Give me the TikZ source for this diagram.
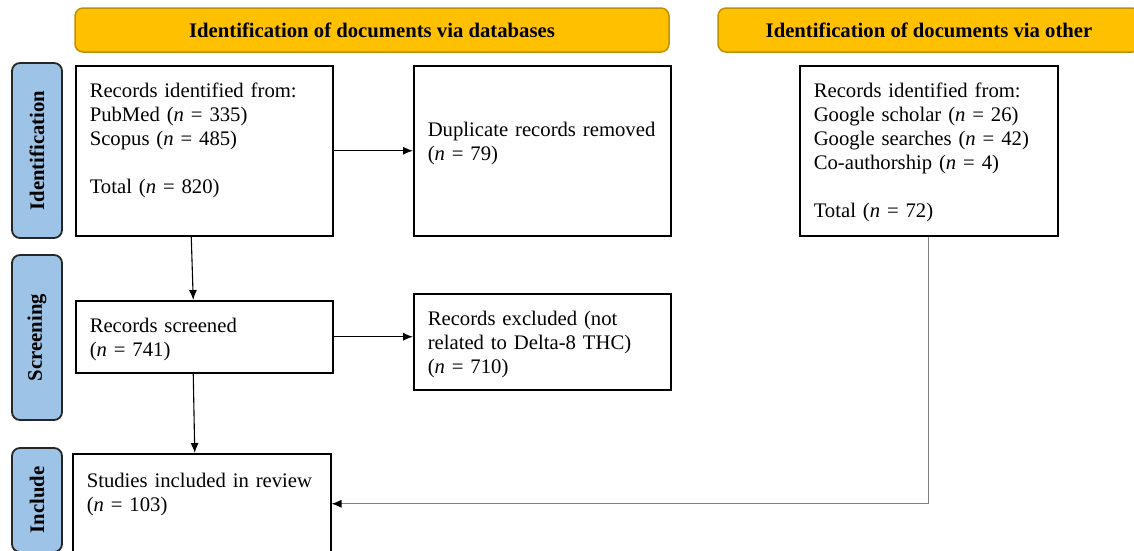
\documentclass[tikz,border=0pt]{standalone}
\usepackage{fontspec}
\setmainfont{Liberation Serif}
\usetikzlibrary{arrows.meta, positioning}

\definecolor{headfill}{HTML}{FFC000}
\definecolor{headline}{HTML}{BF9000}
\definecolor{stagefill}{HTML}{9DC3E6}

\tikzset{
  header/.style={draw=headline, fill=headfill, line width=1.5pt, rounded corners=8pt, minimum height=44pt, font=\bfseries},
  stage/.style={draw=black!85, fill=stagefill, line width=1.8pt, rounded corners=8pt, rotate=90, minimum height=50pt, font=\bfseries},
  record/.style={draw, line width=1.5pt, anchor=north west, align=left, inner xsep=14pt, inner ysep=0pt},
  flow/.style={-{Latex[length=10pt, width=8pt, color=black]}, line width=1.1pt}
}

\begin{document}
\fontsize{20.7}{24}\selectfont
\begin{tikzpicture}[x=1pt, y=-1pt]
\useasboundingbox (0,0) rectangle (1134,550);

% The headers
\node [header, minimum width=594pt] (dbhead) at (372,30) {Identification of documents via databases};
\node [header, minimum width=422pt] (othhead) at (929,30) {Identification of documents via other};

% The stages
\node [stage, minimum width=175pt] (ident) at (37,150.5) {Identification};
\node [stage, minimum width=165pt] (screen) at (37,337.5) {Screening};
\node [stage, minimum width=104pt] (incl) at (37,500) {Include};

% Identification
\node [record, text width=229pt, text height=32pt, text depth=138pt] (dbrec) at (75,65)
  {Records identified from:\\PubMed (\textit{n} = 335)\\Scopus (\textit{n} = 485)\\[24pt]Total (\textit{n} = 820)};
\node [record, text width=229pt, text height=71pt, text depth=99pt] (dup) at (413,65)
  {Duplicate records removed\\(\textit{n} = 79)};
\node [record, text width=230pt, text height=32pt, text depth=138pt] (othrec) at (799,65)
  {Records identified from:\\Google scholar (\textit{n} = 26)\\Google searches (\textit{n} = 42)\\Co-authorship (\textit{n} = 4)\\[24pt]Total (\textit{n} = 72)};

% Screening
\node [record, text width=229pt, text height=32pt, text depth=40pt] (screened) at (75,300)
  {Records screened\\(\textit{n} = 741)};
\node [record, text width=229pt, text height=32pt, text depth=64pt] (excl) at (413,293)
  {Records excluded (not\\related to Delta-8 THC)\\(\textit{n} = 710)};

% Include
\node [record, text width=230pt, text height=34pt, text depth=66pt] (studies) at (72,453)
  {Studies included in review\\(\textit{n} = 103)};

% The flow
\draw [flow] (dbrec.east) -- (dup.west);
\draw [flow] ([xshift=-13pt]dbrec.south) -- ([xshift=-11pt]screened.north);
\draw [flow] (screened.east) -- (screened.east -| excl.west);
\draw [flow] ([xshift=-11pt]screened.south) -- ([xshift=-7pt]studies.north);
\draw [flow, draw=gray] (othrec.south) |- (studies.east);

\end{tikzpicture}
\end{document}
